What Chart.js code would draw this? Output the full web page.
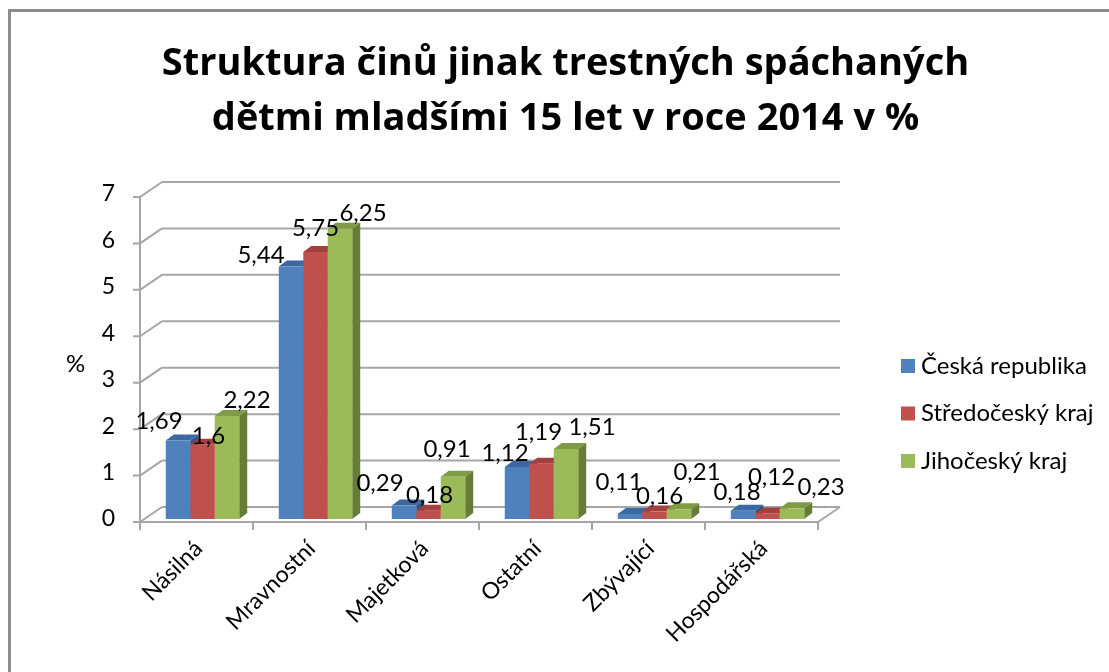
<!DOCTYPE html>
<html>
<head>
<meta charset="utf-8">
<script src="https://cdn.jsdelivr.net/npm/chart.js@4.4.1/dist/chart.umd.min.js"></script>
<style>
  body { margin: 0; background: #fff; overflow: hidden; }
  #wrap { position: relative; width: 1109px; height: 672px; }
  #frame {
    position: absolute; left: 8px; top: 9px; width: 1200px; height: 800px;
    border-left: 3px solid #8c8c8c; border-top: 3px solid #8c8c8c;
    pointer-events: none;
  }
</style>
</head>
<body>
<div id="wrap">
  <canvas id="chart" width="1109" height="672"></canvas>
  <div id="frame"></div>
</div>
<script>
// data
const categories = ["Násilná", "Mravnostní", "Majetková", "Ostatní", "Zbývající", "Hospodářská"];
const seriesNames = ["Česká republika", "Středočeský kraj", "Jihočeský kraj"];
const ceskaRepublika = [1.69, 5.44, 0.29, 1.12, 0.11, 0.18];
const stredoceskyKraj = [1.6, 5.75, 0.18, 1.19, 0.16, 0.12];
const jihoceskyKraj = [2.22, 6.25, 0.91, 1.51, 0.21, 0.23];
const yTicks = [0, 1, 2, 3, 4, 5, 6, 7];
const titleLines = ["Struktura činů jinak trestných spáchaných", "dětmi mladšími 15 let v roce 2014 v %"];

const FONT = "Lato";
const frontColors = ["#4f81bd", "#c0504d", "#9bbb59"];
const topColors = ["#3b68a0", "#a33f3c", "#7f9b45"];
const sideColors = ["#2e5585", "#86312f", "#667d37"];

// 3D offsets (bar plane -> front edge / back wall)
const FRONT = { x: -6, y: 3 };
const BACK = { x: 16, y: -12 };
const DEPTH = { x: 8, y: -6 };
// value label nudges [dx, dy] from bar top centre, like Excel placed them
const labelNudge = [
  [[-19, -19], [-30, -11], [-24, -22], [-12, -14], [-11, -32], [-6, -18]],
  [[6, -8], [0, -24], [1, -15], [-3, -31], [5, -15], [4, -36]],
  [[20, -16], [23, -16], [-6, -27], [26, -22], [18, -37], [29, -21]],
];

const wallsPlugin = {
  id: "walls",
  beforeDatasetsDraw(chart) {
    const { ctx, chartArea: a, scales } = chart;
    const y = scales.y;
    ctx.save();
    ctx.strokeStyle = "#a6a6a6";
    ctx.lineWidth = 2;
    ctx.beginPath();
    yTicks.forEach((v) => {
      const py = y.getPixelForValue(v);
      ctx.moveTo(a.left + BACK.x, py + BACK.y);
      ctx.lineTo(a.right + BACK.x, py + BACK.y);
      ctx.moveTo(a.left + FRONT.x, py + FRONT.y);
      ctx.lineTo(a.left + BACK.x, py + BACK.y);
      ctx.moveTo(a.left + FRONT.x - 7, py + FRONT.y);
      ctx.lineTo(a.left + FRONT.x, py + FRONT.y);
    });
    const y0 = y.getPixelForValue(0);
    const y7 = y.getPixelForValue(7);
    // front vertical axis
    ctx.moveTo(a.left + FRONT.x, y0 + FRONT.y);
    ctx.lineTo(a.left + FRONT.x, y7 + FRONT.y);
    // floor front edge + right diagonal
    ctx.moveTo(a.left + FRONT.x, y0 + FRONT.y);
    ctx.lineTo(a.right + FRONT.x, y0 + FRONT.y);
    ctx.lineTo(a.right + BACK.x, y0 + BACK.y);
    // category ticks
    const step = (a.right - a.left) / categories.length;
    for (let i = 0; i <= categories.length; i++) {
      const px = a.left + FRONT.x + i * step;
      ctx.moveTo(px, y0 + FRONT.y);
      ctx.lineTo(px, y0 + FRONT.y + 8);
    }
    ctx.stroke();

    // top and side faces of the bars, front faces come from Chart.js
    for (let c = 0; c < categories.length; c++) {
      chart.data.datasets.forEach((ds, d) => {
        const el = chart.getDatasetMeta(d).data[c];
        const l = el.x - el.width / 2;
        const r = el.x + el.width / 2;
        ctx.fillStyle = topColors[d];
        ctx.beginPath();
        ctx.moveTo(l, el.y);
        ctx.lineTo(l + DEPTH.x, el.y + DEPTH.y);
        ctx.lineTo(r + DEPTH.x, el.y + DEPTH.y);
        ctx.lineTo(r, el.y);
        ctx.closePath();
        ctx.fill();
        ctx.fillStyle = sideColors[d];
        ctx.beginPath();
        ctx.moveTo(r, el.y);
        ctx.lineTo(r + DEPTH.x, el.y + DEPTH.y);
        ctx.lineTo(r + DEPTH.x, el.base + DEPTH.y);
        ctx.lineTo(r, el.base);
        ctx.closePath();
        ctx.fill();
      });
    }
    ctx.restore();
  },
  afterDatasetsDraw(chart) {
    const { ctx } = chart;
    ctx.save();
    ctx.font = `24px ${FONT}`;
    ctx.fillStyle = "#000";
    ctx.textAlign = "center";
    ctx.textBaseline = "middle";
    chart.data.datasets.forEach((ds, d) => {
      chart.getDatasetMeta(d).data.forEach((el, i) => {
        const txt = String(ds.data[i]).replace(".", ",");
        const [nx, ny] = labelNudge[d][i];
        ctx.fillText(txt, el.x + nx, el.y + ny);
      });
    });
    ctx.restore();
  },
  afterDraw(chart) {
    const { ctx } = chart;
    ctx.save();
    ctx.font = `24px ${FONT}`;
    ctx.fillStyle = "#000";
    ctx.textBaseline = "middle";
    ctx.fillText("%", 66, 364);
    chart.data.datasets.forEach((ds, d) => {
      const cy = 366 + d * 47.5;
      ctx.fillStyle = frontColors[d];
      ctx.fillRect(901, cy - 7, 14, 14);
      ctx.fillStyle = "#000";
      ctx.fillText(ds.label, 921, cy);
    });
    ctx.restore();
  },
};

const series = [ceskaRepublika, stredoceskyKraj, jihoceskyKraj];

new Chart(document.getElementById("chart"), {
  type: "bar",
  data: {
    labels: categories,
    datasets: series.map((vals, i) => ({
      label: seriesNames[i],
      data: vals,
      backgroundColor: frontColors[i],
      borderWidth: 0,
      categoryPercentage: 0.65,
      barPercentage: 1,
    })),
  },
  options: {
    responsive: false,
    animation: false,
    layout: { padding: { left: 22 } },
    plugins: {
      legend: { display: false },
      tooltip: { enabled: false },
      title: {
        display: true,
        text: titleLines,
        color: "#000",
        font: { family: "Open Sans", size: 38, weight: "bold", lineHeight: 1.46 },
        padding: { top: 36, bottom: 47 },
      },
    },
    scales: {
      x: {
        grid: { display: false, drawTicks: false },
        border: { display: false },
        ticks: {
          color: "#000",
          font: { family: FONT, size: 23 },
          minRotation: 45,
          maxRotation: 45,
          padding: 16,
          labelOffset: -4,
        },
        afterFit: (s) => { s.height = 153; },
      },
      y: {
        min: 0,
        max: 7,
        grid: { display: false, drawTicks: false },
        border: { display: false },
        ticks: {
          stepSize: 1,
          color: "#000",
          font: { family: FONT, size: 23 },
          padding: 31,
        },
        afterFit: (s) => { s.width = 124; },
      },
      y2: {
        type: "linear",
        position: "right",
        grid: { display: false },
        border: { display: false },
        ticks: { display: false },
        afterFit: (s) => { s.width = 285; },
      },
    },
  },
  plugins: [wallsPlugin],
});
</script>
</body>
</html>
